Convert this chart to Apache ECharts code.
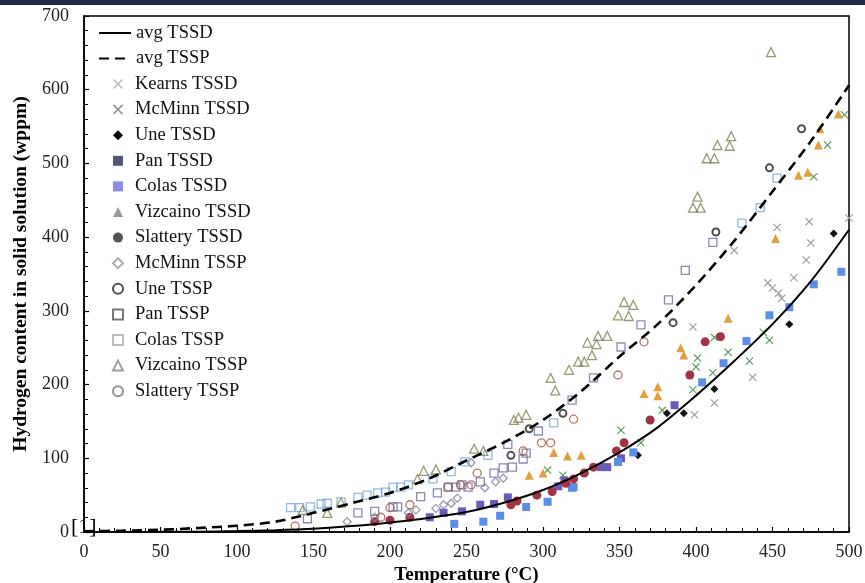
<!DOCTYPE html>
<html><head><meta charset="utf-8">
<script src="https://cdn.jsdelivr.net/npm/echarts@6/dist/echarts.min.js"></script>
<style>html,body{margin:0;padding:0;background:#fff}#c{width:865px;height:583px}</style>
</head><body><div id="c"></div>
<script>
// ---- data ----
const xTicks = [0, 50, 100, 150, 200, 250, 300, 350, 400, 450, 500];
const yTicks = [0, 100, 200, 300, 400, 500, 600, 700];
const curveT  = [0, 25, 50, 75, 100, 125, 150, 175, 200, 225, 250, 275, 300, 325, 350, 375, 400, 425, 450, 475, 500];
const avgTSSD = [0, 0.05, 0.2, 0.5, 1.2, 2.5, 4.5, 8, 13, 19, 27, 40, 57, 80, 108, 142, 185, 232, 282, 340, 410];
const avgTSSP = [1, 1.8, 3, 5.5, 8.5, 14, 26, 39, 53, 72, 97, 122, 152, 191, 238, 282, 335, 395, 462, 530, 606];

const kearnsTSSD = [[474,421],[475,392],[472,369],[464,345],[453,413],[447,338],[450,331],[454,324],[456,317],[425,382],[398,278],[500,426],[412,175],[399,159],[437,210]];
const mcminnTSSD = [[477,482],[486,525],[497,566],[448,260],[444,271],[435,232],[412,264],[401,236],[400,224],[421,244],[411,216],[378,165],[351,138],[364,121],[303,84],[313,77],[398,193]];
const uneTSSD = [[490,405],[461,282],[412,194],[392,161],[381,161],[362,104]];
const panTSSD = [[310,62],[277,47],[268,38],[259,37],[247,28],[235,26],[226,20],[338,88],[342,88],[351,100],[314,70],[386,172]];
const colasTSSD = [[495,353],[477,336],[461,305],[448,294],[433,259],[418,229],[404,203],[359,108],[349,95],[319,60],[303,41],[289,34],[272,22],[261,14],[242,11],[320,61]];
const vizcainoTSSD = [[493,567],[481,547],[480,525],[467,484],[473,488],[452,398],[421,290],[390,250],[392,240],[366,188],[375,197],[375,185],[307,108],[316,103],[291,77],[300,80],[325,104]];
const slatteryTSSD = [[406,258],[416,265],[396,213],[370,152],[353,121],[348,110],[333,88],[327,80],[315,66],[320,72],[279,37],[283,42],[296,50],[306,55],[190,14],[200,16],[213,20]];
const mcminnTSSP = [[212,26],[217,30],[235,37],[240,39],[244,46],[269,68],[274,73],[253,94],[172,14],[190,20],[230,32],[262,60]];
const uneTSSP = [[469,547],[448,494],[413,407],[385,284],[313,161],[291,140],[279,104]];
const panTSSP = [[411,393],[393,355],[382,315],[364,281],[351,251],[333,209],[319,179],[297,137],[277,119],[287,99],[289,107],[274,87],[280,88],[268,80],[259,68],[251,61],[247,64],[238,61],[243,61],[231,53],[220,48],[202,34],[205,34],[179,26],[190,28],[146,18]];
const colasTSSP = [[135,33],[141,33],[148,34],[155,38],[159,39],[168,41],[179,47],[185,50],[192,53],[197,54],[202,61],[207,61],[212,64],[249,95],[264,104],[307,148],[430,419],[442,440],[453,480],[228,72],[240,82]];
const vizcainoTSSP = [[449,651],[423,537],[414,525],[422,524],[407,507],[412,507],[401,455],[398,440],[403,440],[353,312],[359,308],[349,294],[356,293],[336,266],[342,266],[329,257],[335,255],[332,240],[323,231],[327,231],[317,220],[305,209],[308,192],[289,159],[284,155],[281,152],[255,113],[261,110],[222,83],[230,85],[218,72],[159,26],[143,30],[168,40]];
const slatteryTSSP = [[366,258],[349,213],[320,153],[299,121],[305,121],[287,110],[257,80],[253,64],[238,61],[246,64],[213,37],[200,33],[194,20],[138,8]];

// ---- styling ----
const FONT = 'Liberation Serif';
const CROSS = 'path://M1,0L5,4L9,0L10,1L6,5L10,9L9,10L5,6L1,10L0,9L4,5L0,1Z';

function filled(name, data, symbol, size, color) {
  return { name, type: 'scatter', data, symbol, symbolSize: size, z: 3,
    itemStyle: { color: color, opacity: 1 } };
}
function open(name, data, symbol, size, color, bw) {
  return { name, type: 'scatter', data, symbol, symbolSize: size, z: 3,
    itemStyle: { color: 'rgba(255,255,255,0)', borderColor: color, borderWidth: bw || 1.3 } };
}

const series = [
  { name: 'avg TSSD', type: 'line', data: curveT.map((t, i) => [t, avgTSSD[i]]), smooth: 0.3, symbol: 'none', z: 4,
    lineStyle: { color: '#000', width: 2, type: 'solid' }, itemStyle: { color: '#000' } },
  { name: 'avg TSSP', type: 'line', data: curveT.map((t, i) => [t, avgTSSP[i]]), smooth: 0.3, symbol: 'none', z: 4,
    lineStyle: { color: '#000', width: 2.6, type: [10, 6] }, itemStyle: { color: '#000' } },
  filled('Kearns TSSD', kearnsTSSD, CROSS, 8, '#9a9a9a'),
  filled('McMinn TSSD', mcminnTSSD, CROSS, 8, '#5a9a5a'),
  filled('Une TSSD', uneTSSD, 'diamond', 8, '#111'),
  filled('Pan TSSD', panTSSD, 'rect', 8, '#6a5bb8'),
  filled('Colas TSSD', colasTSSD, 'rect', 8, '#5b8ee8'),
  filled('Vizcaino TSSD', vizcainoTSSD, 'triangle', 9, '#e0a040'),
  filled('Slattery TSSD', slatteryTSSD, 'circle', 9, '#a03444'),
  open('McMinn TSSP', mcminnTSSP, 'diamond', 8, '#7f7f9f'),
  open('Une TSSP', uneTSSP, 'circle', 7, '#222', 2),
  open('Pan TSSP', panTSSP, 'rect', 8, '#6e6a9c'),
  open('Colas TSSP', colasTSSP, 'rect', 8, '#7aa6d8'),
  open('Vizcaino TSSP', vizcainoTSSP, 'triangle', 9, '#7f7f50'),
  open('Slattery TSSP', slatteryTSSP, 'circle', 8, '#a0503c')
];

const legendStyles = {
  'Kearns TSSD': { color: '#b8b8b8' },
  'McMinn TSSD': { color: '#888' },
  'Une TSSD': { color: '#000' },
  'Pan TSSD': { color: '#55557a' },
  'Colas TSSD': { color: '#8c8ce2' },
  'Vizcaino TSSD': { color: '#999' },
  'Slattery TSSD': { color: '#555' },
  'McMinn TSSP': { borderColor: '#999' },
  'Une TSSP': { borderColor: '#222' },
  'Pan TSSP': { borderColor: '#555' },
  'Colas TSSP': { borderColor: '#aaa' },
  'Vizcaino TSSP': { borderColor: '#888' },
  'Slattery TSSP': { borderColor: '#777' }
};
const scatterNames = series.slice(2).map(s => s.name);
const hiddenSymbol = { color: 'rgba(0,0,0,0)', borderColor: 'rgba(0,0,0,0)', borderWidth: 0, opacity: 0 };

const chart = echarts.init(document.getElementById('c'), null, { renderer: 'canvas' });
chart.setOption({
  animation: false,
  backgroundColor: '#fff',
  grid: { left: 84, right: 16, top: 16, bottom: 51, show: true, borderColor: '#000', borderWidth: 1.5,
          backgroundColor: 'rgba(0,0,0,0)', outerBoundsMode: 'none', containLabel: false },
  legend: [
    { data: [{ name: 'avg TSSD', itemStyle: hiddenSymbol }, { name: 'avg TSSP', itemStyle: hiddenSymbol }],
      orient: 'vertical', left: 98, top: 23.5, padding: 0,
      itemWidth: 32, itemHeight: 14, itemGap: 6.6,
      textStyle: { fontFamily: FONT, fontSize: 18.5, color: '#111' } },
    { data: scatterNames.map(n => ({ name: n, itemStyle: legendStyles[n] })), orient: 'vertical', left: 112, top: 74.5, padding: 0,
      itemWidth: 10, itemHeight: 10, itemGap: 6.6,
      textStyle: { fontFamily: FONT, fontSize: 18.5, color: '#111', padding: [0, 0, 0, 7] } }
  ],
  xAxis: {
    type: 'value', min: xTicks[0], max: xTicks[xTicks.length - 1], interval: xTicks[1] - xTicks[0],
    name: 'Temperature (°C)', nameLocation: 'middle', nameGap: 30,
    nameTextStyle: { fontFamily: FONT, fontWeight: 'bold', fontSize: 19, color: '#000' },
    axisLine: { lineStyle: { color: '#000', width: 1.5 } },
    axisTick: { inside: true, length: 5, lineStyle: { color: '#000', width: 1.2 } },
    minorTick: { show: true, splitNumber: 5, length: 4, lineStyle: { color: '#000', width: 1 } },
    splitLine: { show: false },
    axisLabel: { fontFamily: FONT, fontSize: 18, color: '#222', margin: 11 }
  },
  yAxis: {
    type: 'value', min: yTicks[0], max: yTicks[yTicks.length - 1], interval: yTicks[1] - yTicks[0],
    name: 'Hydrogen content in solid solution (wppm)', nameLocation: 'middle', nameGap: 53,
    nameTextStyle: { fontFamily: FONT, fontWeight: 'bold', fontSize: 19.5, color: '#000' },
    axisLine: { lineStyle: { color: '#000', width: 1.5 } },
    axisTick: { inside: true, length: 5, lineStyle: { color: '#000', width: 1.2 } },
    minorTick: { show: true, splitNumber: 5, length: 4, lineStyle: { color: '#000', width: 1 } },
    splitLine: { show: false },
    axisLabel: { fontFamily: FONT, fontSize: 18, color: '#222', margin: 15 }
  },
  graphic: [
    { type: 'rect', left: 0, top: 0, z: 100, shape: { width: 865, height: 5 }, style: { fill: '#1c2942' } },
    { type: 'text', left: 71, top: 516, z: 100, style: { text: '[1]', fontFamily: FONT, fontSize: 22, fill: '#000' } }
  ],
  series: series
});
</script></body></html>
